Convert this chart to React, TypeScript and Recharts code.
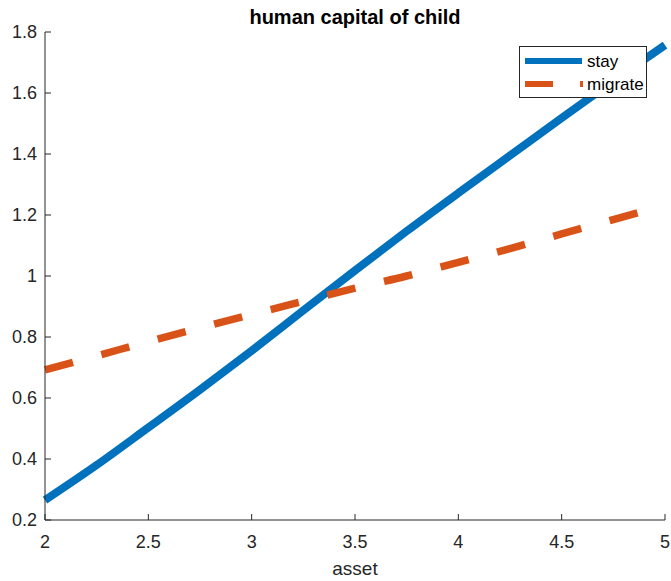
import { LineChart, Line, XAxis, YAxis, Legend } from 'recharts';

const assetValues = [2, 2.25, 2.5, 2.75, 3, 3.25, 3.5, 3.75, 4, 4.25, 4.5, 4.75, 5];
const stayValues = [0.265, 0.38, 0.503, 0.627, 0.755, 0.887, 1.018, 1.147, 1.272, 1.395, 1.518, 1.639, 1.757];
const migrateValues = [0.692, 0.738, 0.785, 0.83, 0.874, 0.917, 0.96, 1.0, 1.045, 1.09, 1.138, 1.185, 1.232];
const xTicks = [2, 2.5, 3, 3.5, 4, 4.5, 5];
const yTicks = [0.2, 0.4, 0.6, 0.8, 1, 1.2, 1.4, 1.6, 1.8];

const AXIS_COLOR = '#262626';
const FONT = '"Liberation Sans", Arial, Helvetica, sans-serif';
const BLUE = '#0072BD';
const ORANGE = '#D95319';

const data = assetValues.map((a, i) => ({
  asset: a,
  stay: stayValues[i],
  migrate: migrateValues[i],
}));

function YTick(props: any) {
  const { x, y, payload } = props;
  return (
    <g>
      <line x1={x + 8} x2={x + 14} y1={y} y2={y} stroke={AXIS_COLOR} strokeWidth={1} />
      <text x={x} y={y} dy="0.36em" textAnchor="end" fill={AXIS_COLOR} fontSize={18} fontFamily={FONT}>
        {String(payload.value)}
      </text>
    </g>
  );
}

function XTick(props: any) {
  const { x, y, payload } = props;
  return (
    <g>
      <line x1={x} x2={x} y1={y} y2={y - 6} stroke={AXIS_COLOR} strokeWidth={1} />
      <text x={x} y={y + 21.5} dy="0.36em" textAnchor="middle" fill={AXIS_COLOR} fontSize={18} fontFamily={FONT}>
        {String(payload.value)}
      </text>
    </g>
  );
}

function LegendBox() {
  return (
    <div
      style={{
        width: 126,
        height: 50,
        border: `1px solid ${AXIS_COLOR}`,
        background: '#fff',
        position: 'relative',
      }}
    >
      <svg width={126} height={50} style={{ position: 'absolute', left: 0, top: 0 }}>
        <line x1={5} x2={62} y1={14} y2={14} stroke={BLUE} strokeWidth={6} />
        <line x1={5} x2={63} y1={37} y2={37} stroke={ORANGE} strokeWidth={6} strokeDasharray="28 27" />
        <text x={67} y={14} dy="0.36em" fontSize={17} fontFamily={FONT} fill="#000">stay</text>
        <text x={67} y={37} dy="0.36em" fontSize={17} fontFamily={FONT} fill="#000">migrate</text>
      </svg>
    </div>
  );
}

export default function App() {
  return (
    <div style={{ position: 'absolute', left: 0, top: 0, width: 671, height: 581, background: '#fff' }}>
      <div
        style={{
          position: 'absolute',
          left: 0,
          top: 5,
          width: 710,
          textAlign: 'center',
          fontFamily: FONT,
          fontWeight: 'bold',
          fontSize: 20,
          color: '#000',
          lineHeight: '24px',
        }}
      >
        human capital of child
      </div>
      <LineChart width={671} height={581} data={data} margin={{ top: 32, right: 6, bottom: 0, left: 0 }}>
        <XAxis
          dataKey="asset"
          type="number"
          domain={[2, 5]}
          ticks={xTicks}
          height={61}
          tickSize={0}
          tickMargin={0}
          tickLine={false}
          tick={<XTick />}
          axisLine={{ stroke: AXIS_COLOR, strokeWidth: 1 }}
          label={{ value: 'asset', position: 'insideBottom', offset: 6, fill: AXIS_COLOR, fontSize: 19, fontFamily: FONT }}
        />
        <YAxis
          type="number"
          domain={[0.2, 1.8]}
          ticks={yTicks}
          width={45}
          tickSize={0}
          tickMargin={8}
          tickLine={false}
          tick={<YTick />}
          axisLine={{ stroke: AXIS_COLOR, strokeWidth: 1 }}
          allowDataOverflow
        />
        <Legend
          layout="vertical"
          align="center"
          verticalAlign="middle"
          wrapperStyle={{ position: 'absolute', left: 519, top: 46, width: 128, height: 52 }}
          content={() => <LegendBox />}
        />
        <Line
          dataKey="stay"
          name="stay"
          type="monotone"
          stroke={BLUE}
          strokeWidth={8}
          dot={false}
          activeDot={false}
          isAnimationActive={false}
        />
        <Line
          dataKey="migrate"
          name="migrate"
          type="monotone"
          stroke={ORANGE}
          strokeWidth={7.5}
          strokeDasharray="29 29.4"
          strokeLinecap="butt"
          dot={false}
          activeDot={false}
          isAnimationActive={false}
        />
      </LineChart>
    </div>
  );
}
